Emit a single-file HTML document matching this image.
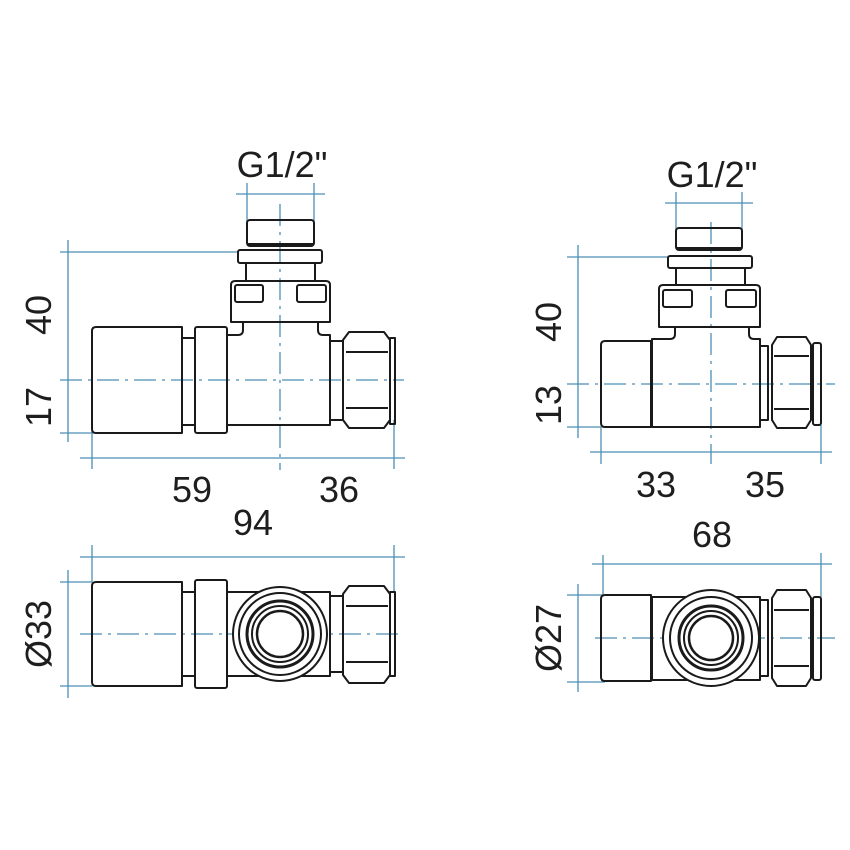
<!DOCTYPE html>
<html><head><meta charset="utf-8"><style>
html,body{margin:0;padding:0;background:#fff}
svg{display:block}
text{font-family:"Liberation Sans",sans-serif;fill:#1e1e1e;font-size:36px}
</style></head><body>
<svg width="850" height="850" viewBox="0 0 850 850" xmlns="http://www.w3.org/2000/svg">
<g stroke="#4a8fb5" stroke-width="1.3" fill="none">
 <!-- left top -->
 <line x1="236" y1="194" x2="325" y2="194"/>
 <line x1="247" y1="183" x2="247" y2="225"/>
 <line x1="314" y1="183" x2="314" y2="225"/>
 <line x1="280" y1="204" x2="280" y2="470" stroke-dasharray="22,6,3,6"/>
 <line x1="68" y1="240" x2="68" y2="442"/>
 <line x1="60" y1="252" x2="238" y2="252"/>
 <line x1="60" y1="433" x2="92" y2="433"/>
 <line x1="60" y1="380" x2="404" y2="380" stroke-dasharray="22,6,3,6"/>
 <line x1="80" y1="458" x2="405" y2="458"/>
 <line x1="92" y1="430" x2="92" y2="469"/>
 <line x1="394" y1="420" x2="394" y2="469"/>
 <!-- left bottom -->
 <line x1="80" y1="557" x2="405" y2="557"/>
 <line x1="92" y1="545" x2="92" y2="582"/>
 <line x1="394" y1="545" x2="394" y2="592"/>
 <line x1="68" y1="570" x2="68" y2="698"/>
 <line x1="60" y1="582" x2="92" y2="582"/>
 <line x1="60" y1="686" x2="92" y2="686"/>
 <line x1="80" y1="634" x2="402" y2="634" stroke-dasharray="22,6,3,6"/>
 <!-- right top -->
 <line x1="665" y1="203" x2="753" y2="203"/>
 <line x1="676" y1="192" x2="676" y2="232"/>
 <line x1="742" y1="192" x2="742" y2="232"/>
 <line x1="711" y1="222" x2="711" y2="464" stroke-dasharray="22,6,3,6"/>
 <line x1="578" y1="245" x2="578" y2="438"/>
 <line x1="567" y1="257" x2="668" y2="257"/>
 <line x1="567" y1="427" x2="601" y2="427"/>
 <line x1="567" y1="384" x2="835" y2="384" stroke-dasharray="22,6,3,6"/>
 <line x1="590" y1="452" x2="832" y2="452"/>
 <line x1="601" y1="427" x2="601" y2="464"/>
 <line x1="821" y1="425" x2="821" y2="464"/>
 <!-- right bottom -->
 <line x1="592" y1="564" x2="832" y2="564"/>
 <line x1="603" y1="555" x2="603" y2="595"/>
 <line x1="821" y1="553" x2="821" y2="597"/>
 <line x1="578" y1="584" x2="578" y2="692"/>
 <line x1="567" y1="595" x2="605" y2="595"/>
 <line x1="567" y1="682" x2="605" y2="682"/>
 <line x1="595" y1="638" x2="835" y2="638" stroke-dasharray="22,6,3,6"/>
</g>
<g stroke="#1a1a1a" stroke-width="2" fill="none" stroke-linejoin="round">
 <!-- LEFT TOP valve -->
 <rect x="247" y="220" width="67" height="26" rx="3"/>
 <line x1="248" y1="244" x2="313" y2="244"/>
 <rect x="238" y="250" width="84" height="13" rx="2"/>
 <rect x="246" y="263" width="69" height="18"/>
 <path d="M231 285 q0-4 4-4 h91 q4 0 4 4 v37 h-99 z"/>
 <rect x="235" y="285" width="28" height="17" rx="2"/>
 <rect x="297" y="285" width="29" height="17" rx="2"/>
 <path d="M243 322 v8 q0 5 -5 5 h-11 v90 h103 v-90 h-7 q-5 0 -5 -5 v-8"/>
 <path d="M96 327 h86 v106 h-86 q-4 0 -4 -4 v-98 q0-4 4-4 z"/>
 <rect x="182" y="338" width="13" height="87"/>
 <rect x="195" y="327" width="32" height="106" rx="2"/>
 <rect x="330" y="341" width="13" height="79"/>
 <path d="M349 332 h35 l6 8 v80 l-6 8 h-35 l-6 -8 v-80 z"/>
 <line x1="346" y1="352" x2="388" y2="352"/>
 <line x1="346" y1="408" x2="388" y2="408"/>
 <rect x="390" y="338" width="5" height="86"/>
 <!-- LEFT BOTTOM -->
 <path d="M96 582 h86 v104 h-86 q-4 0 -4 -4 v-96 q0-4 4-4 z"/>
 <rect x="182" y="592" width="13" height="84"/>
 <rect x="195" y="580" width="32" height="108" rx="2"/>
 <rect x="227" y="592" width="103" height="84"/>
 <circle cx="280" cy="634" r="47" fill="#fff"/>
 <circle cx="280" cy="634" r="41"/>
 <circle cx="280" cy="634" r="33" stroke-width="3"/>
 <circle cx="280" cy="634" r="28"/>
 <circle cx="280" cy="634" r="23" stroke-width="2.5"/>
 <rect x="330" y="596" width="13" height="76"/>
 <path d="M349 586 h35 l6 8 v81 l-6 8 h-35 l-6 -8 v-81 z"/>
 <line x1="346" y1="606" x2="388" y2="606"/>
 <line x1="346" y1="662" x2="388" y2="662"/>
 <rect x="390" y="592" width="5" height="84"/>
 <!-- RIGHT TOP -->
 <rect x="676" y="228" width="66" height="22" rx="3"/>
 <line x1="677" y1="248" x2="741" y2="248"/>
 <rect x="668" y="256" width="84" height="12" rx="2"/>
 <rect x="676" y="268" width="69" height="17"/>
 <path d="M659 289 q0-4 4-4 h93 q4 0 4 4 v38 h-101 z"/>
 <rect x="663" y="290" width="29" height="17" rx="2"/>
 <rect x="726" y="290" width="30" height="17" rx="2"/>
 <path d="M675 327 v7 q0 5 -5 5 h-18 v88 h108 v-88 h-6 q-5 0 -5 -5 v-7"/>
 <path d="M605 341 h46 v86 h-46 q-4 0 -4 -4 v-78 q0-4 4-4 z"/>
 <rect x="760" y="346" width="8" height="74"/>
 <path d="M777 337 h29 l5 8 v75 l-5 8 h-29 l-5 -8 v-75 z"/>
 <line x1="774" y1="356" x2="809" y2="356"/>
 <line x1="774" y1="409" x2="809" y2="409"/>
 <rect x="813" y="343" width="8" height="82" rx="2"/>
 <!-- RIGHT BOTTOM -->
 <path d="M605 595 h46 v86 h-46 q-4 0 -4 -4 v-78 q0-4 4-4 z"/>
 <rect x="652" y="597" width="108" height="83"/>
 <circle cx="711" cy="638" r="48" fill="#fff"/>
 <circle cx="711" cy="638" r="41"/>
 <circle cx="711" cy="638" r="32" stroke-width="3"/>
 <circle cx="711" cy="638" r="27"/>
 <circle cx="711" cy="638" r="22" stroke-width="2.5"/>
 <rect x="760" y="600" width="8" height="76"/>
 <path d="M777 590 h29 l5 8 v80 l-5 8 h-29 l-5 -8 v-80 z"/>
 <line x1="774" y1="610" x2="809" y2="610"/>
 <line x1="774" y1="666" x2="809" y2="666"/>
 <rect x="813" y="597" width="8" height="83" rx="2"/>
</g>
<g>
 <text x="282" y="177" text-anchor="middle" font-size="34">G1/2"</text>
 <text x="712" y="187" text-anchor="middle" font-size="34">G1/2"</text>
 <text x="192" y="502" text-anchor="middle">59</text>
 <text x="339" y="502" text-anchor="middle">36</text>
 <text x="253" y="535" text-anchor="middle">94</text>
 <text x="656" y="497" text-anchor="middle">33</text>
 <text x="765" y="497" text-anchor="middle">35</text>
 <text x="712" y="547" text-anchor="middle">68</text>
 <text transform="translate(51,315) rotate(-90)" text-anchor="middle">40</text>
 <text transform="translate(51,407) rotate(-90)" text-anchor="middle">17</text>
 <text transform="translate(51,634) rotate(-90)" text-anchor="middle">Ø33</text>
 <text transform="translate(561,322) rotate(-90)" text-anchor="middle">40</text>
 <text transform="translate(561,405) rotate(-90)" text-anchor="middle">13</text>
 <text transform="translate(561,638) rotate(-90)" text-anchor="middle">Ø27</text>
</g>
</svg>
</body></html>
